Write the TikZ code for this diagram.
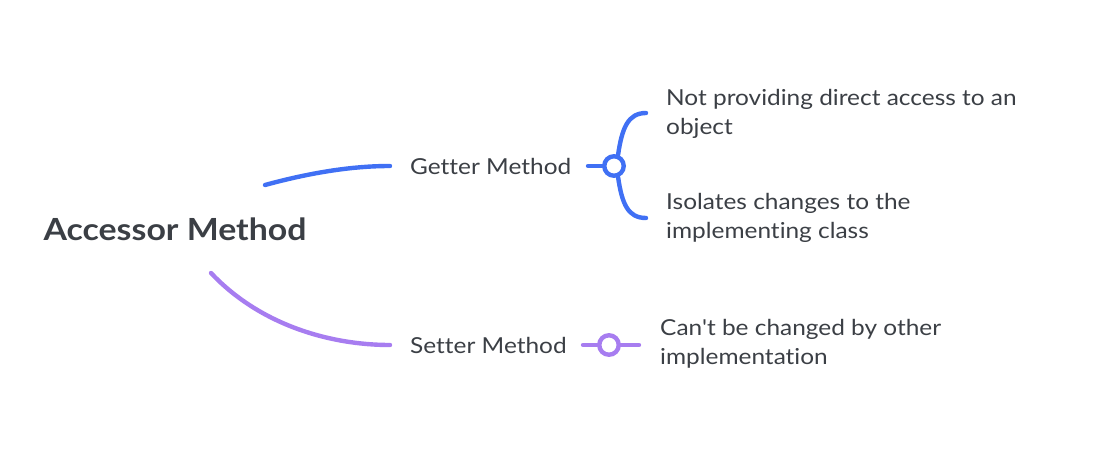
\documentclass[tikz,border=0pt]{standalone}
\usepackage{fontspec}
\setmainfont{Lato}[FakeStretch=1.11,Ligatures={TeXOff,NoCommon,NoRequired,NoContextual}]
\definecolor{bluec}{HTML}{4070F4}
\definecolor{purplec}{HTML}{A77DF0}
\definecolor{textc}{HTML}{3B3F45}
\begin{document}
\begin{tikzpicture}[x=1pt,y=-1pt,
  lbl/.style={inner sep=0pt, text=textc, font=\fontsize{22}{28.5}\selectfont, anchor=west, align=left},
  conn/.style={line width=4.4pt, line cap=round},
  knot/.style={circle, draw, line width=4.4pt, fill=white, minimum size=19.5pt, inner sep=0pt}]
\useasboundingbox (0,0) rectangle (1093,455);
\node[inner sep=0pt, text=textc, font=\fontsize{30.5}{36}\selectfont\bfseries] (root) at (175,229) {Accessor Method};
\node[lbl] (getter) at (410,166) {Getter Method};
\node[lbl] (setter) at (410,345) {Setter Method};
\node[lbl] (g1) at (666,114) {Not providing direct access to an\\object};
\node[lbl] (g2) at (666,218) {Isolates changes to the\\implementing class};
\node[lbl] (s1) at (660,344) {Can't be changed by other\\implementation};
\coordinate (rb) at (265,185);
\coordinate (rp) at (211,273);
\coordinate (gl) at (390,166);
\coordinate (sl) at (390,345);
\draw[conn, bluec] (rb) .. controls (320,170) and (360,166) .. (gl);
\draw[conn, purplec] (rp) .. controls (260,325) and (330,345) .. (sl);
% getter knot
\coordinate (gk0) at (588,166);
\node[knot, draw=bluec] (gk) at (614,166) {};
\coordinate (gt) at (646,113);
\coordinate (gb) at (646,218);
\draw[conn, bluec] (gk0) -- (gk.west);
\draw[conn, bluec] (gk.70) .. controls (622,128) and (628,113) .. (gt);
\draw[conn, bluec] (gk.-70) .. controls (622,204) and (628,218) .. (gb);
% setter knot
\coordinate (sk0) at (583,345);
\coordinate (sk1) at (639,345);
\node[knot, draw=purplec] (sk) at (609,345) {};
\draw[conn, purplec] (sk0) -- (sk.west);
\draw[conn, purplec] (sk.east) -- (sk1);
\end{tikzpicture}
\end{document}
